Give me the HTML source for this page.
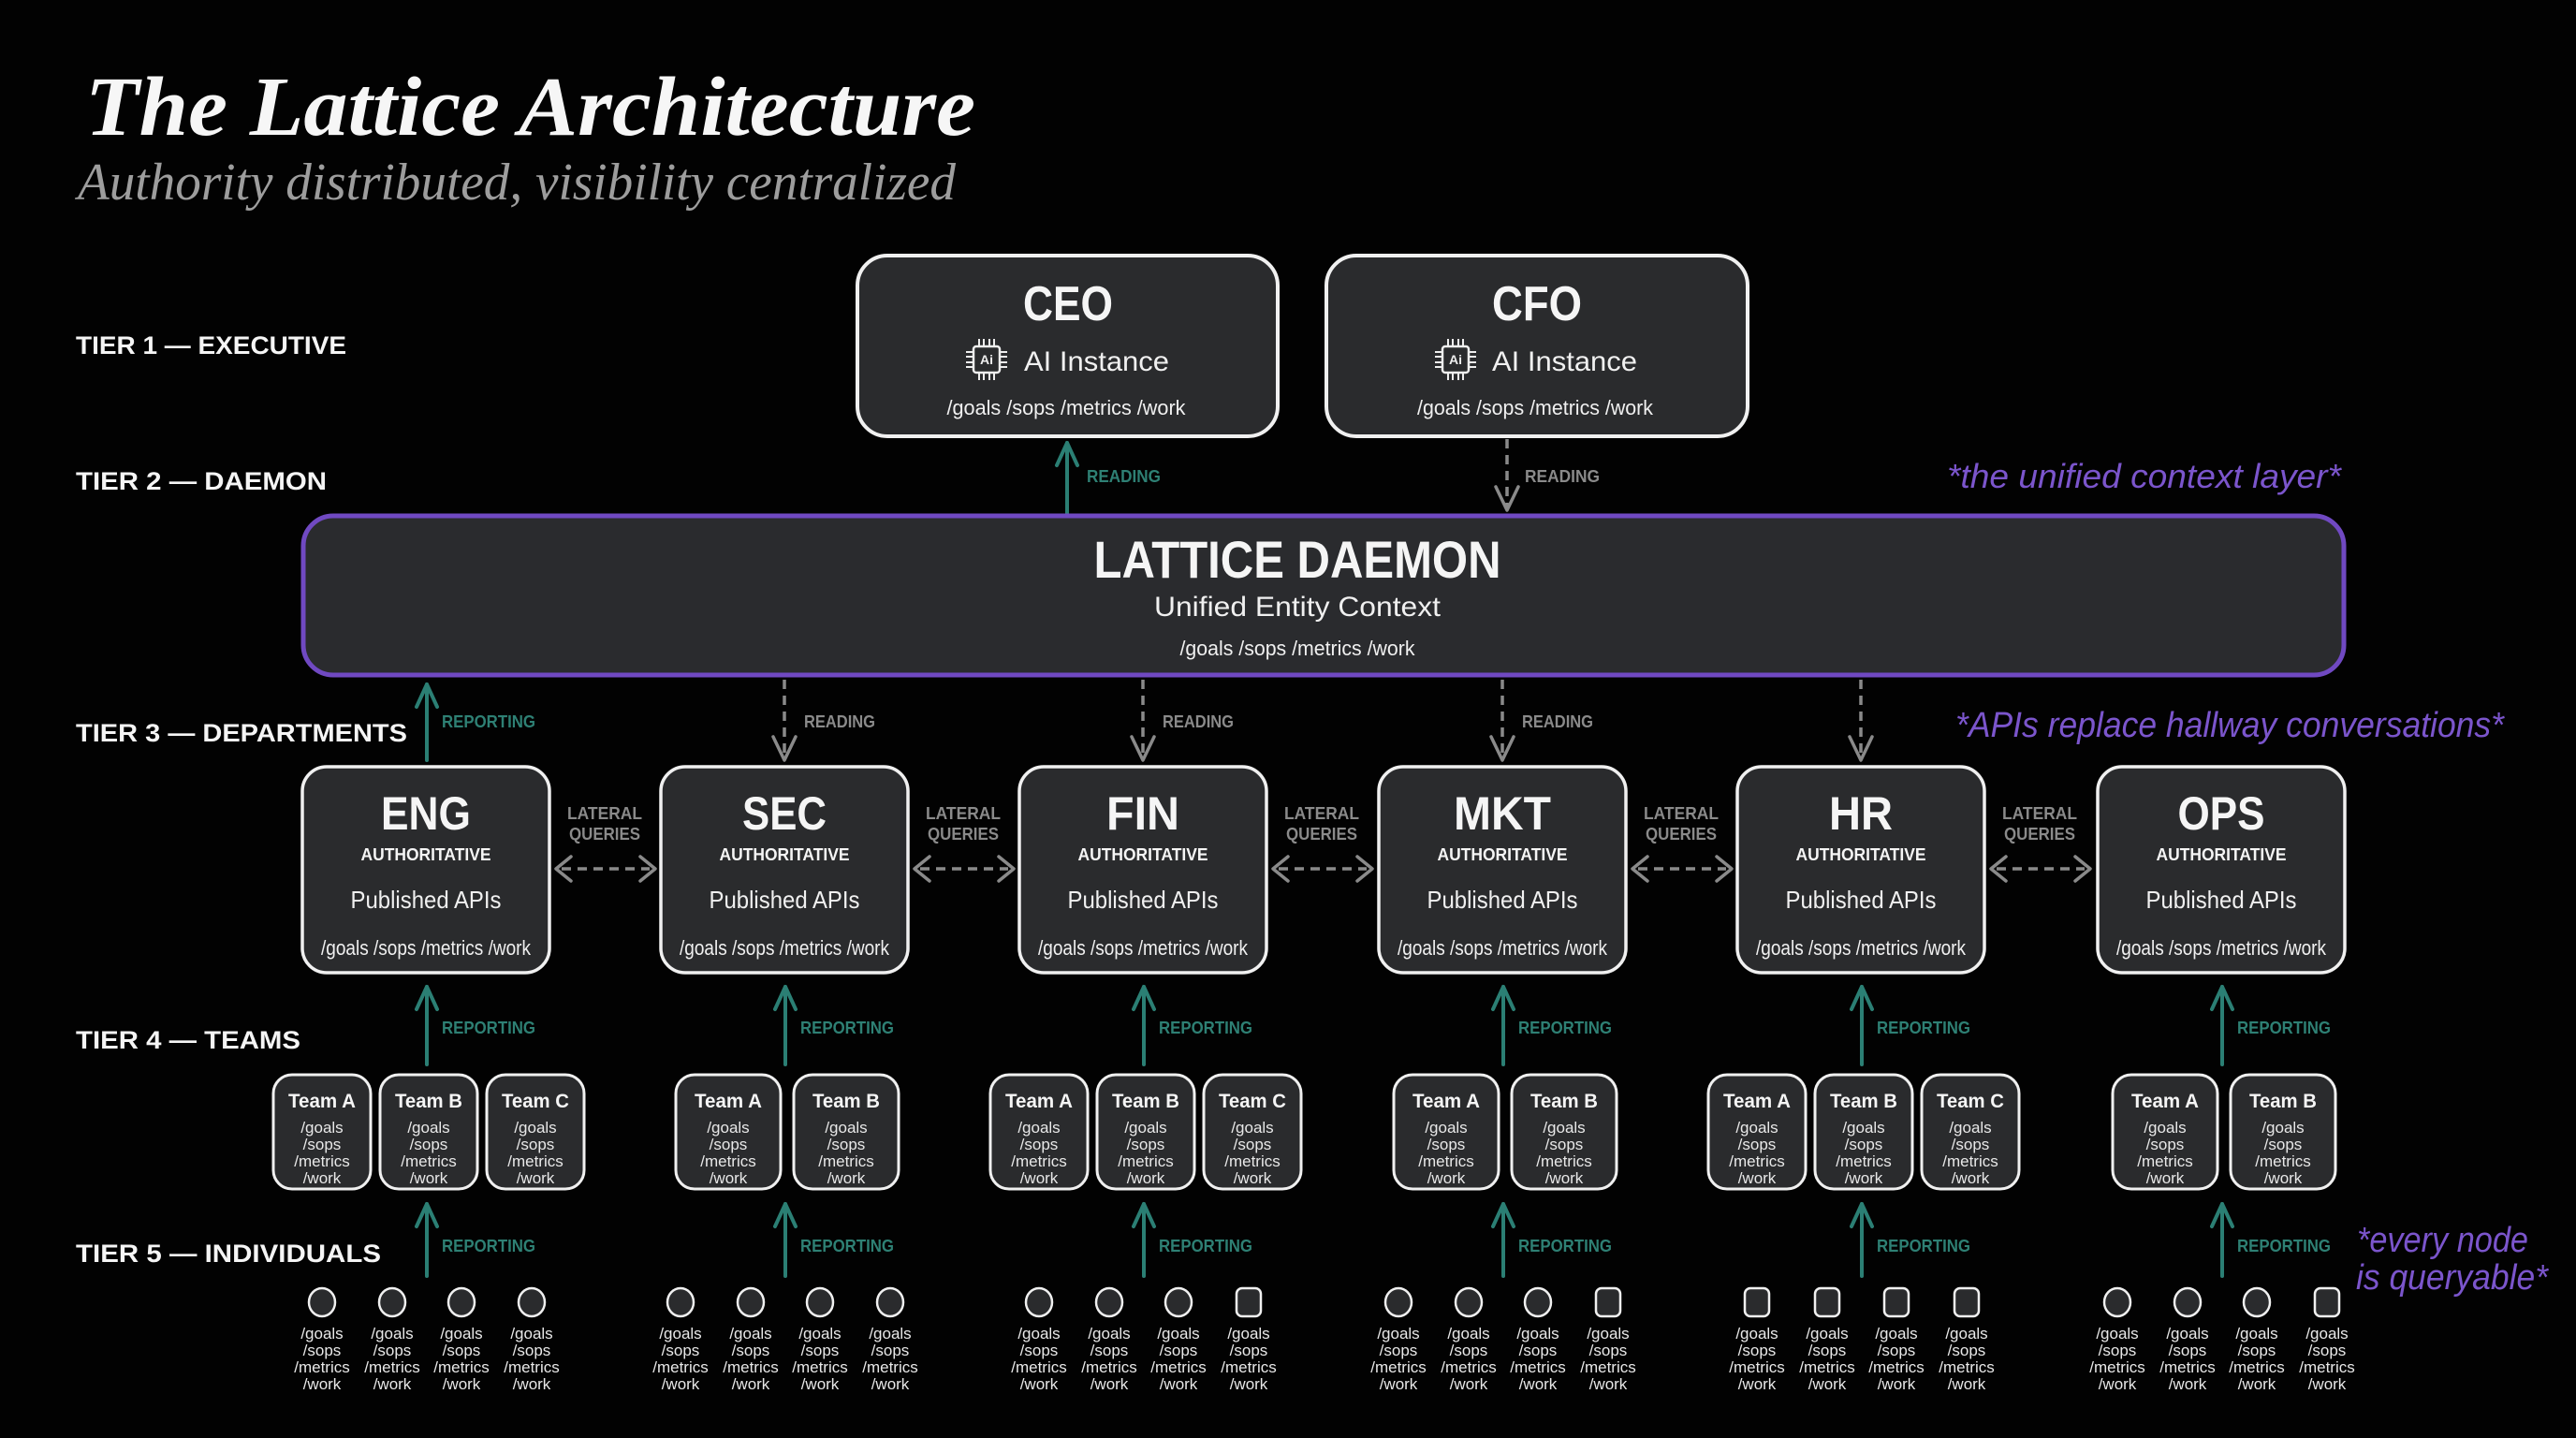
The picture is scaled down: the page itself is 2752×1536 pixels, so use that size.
<!DOCTYPE html>
<html><head><meta charset="utf-8">
<style>
html,body{margin:0;padding:0;background:#020202;}
svg{display:block}
.s{font-family:"Liberation Sans",sans-serif;fill:#f0f0f0}
.b{font-family:"Liberation Sans",sans-serif;font-weight:bold;fill:#f5f5f5}
.box{fill:#2a2b2d;stroke:#f0f0f0}
.p{font-family:"Liberation Sans",sans-serif;font-size:17px;fill:#e8e8e8;text-anchor:middle}
.tm{font-family:"Liberation Sans",sans-serif;font-weight:bold;font-size:21px;fill:#f5f5f5;text-anchor:middle}
.tl{font-family:"Liberation Sans",sans-serif;font-weight:bold;font-size:18px;fill:#2e8074}
.gl{font-family:"Liberation Sans",sans-serif;font-weight:bold;font-size:18px;fill:#8a8a8a}
.ta{stroke:#2b7f74;stroke-width:4;fill:none;stroke-linecap:round;stroke-linejoin:round}
.ga{stroke:#8a8a8a;stroke-width:3.5;fill:none;stroke-dasharray:10 7}
.gh{stroke:#8a8a8a;stroke-width:3.5;fill:none;stroke-linecap:round;stroke-linejoin:round}
.pu{font-family:"Liberation Sans",sans-serif;font-style:italic;fill:#7b55cc}
.mid{text-anchor:middle}
.pin{stroke:#eeeeee;stroke-width:2}
</style></head><body>
<svg width="2752" height="1536" viewBox="0 0 2752 1536" xmlns="http://www.w3.org/2000/svg">
<rect x="0" y="0" width="2752" height="1536" fill="#020202"/>

<!-- Title -->
<text x="91" y="144" font-family="'Liberation Serif', serif" font-weight="bold" font-style="italic" font-size="90" fill="#f6f6f6" textLength="951" lengthAdjust="spacingAndGlyphs">The Lattice Architecture</text>
<text x="83" y="213" font-family="'Liberation Serif', serif" font-style="italic" font-size="56" fill="#9d9d9d" textLength="938" lengthAdjust="spacingAndGlyphs">Authority distributed, visibility centralized</text>

<!-- Tier labels -->
<text class="b" x="81" y="378" font-size="27" textLength="289" lengthAdjust="spacingAndGlyphs">TIER 1 — EXECUTIVE</text>
<text class="b" x="81" y="523" font-size="27" textLength="268" lengthAdjust="spacingAndGlyphs">TIER 2 — DAEMON</text>
<text class="b" x="81" y="792" font-size="27" textLength="354" lengthAdjust="spacingAndGlyphs">TIER 3 — DEPARTMENTS</text>
<text class="b" x="81" y="1120" font-size="27" textLength="240" lengthAdjust="spacingAndGlyphs">TIER 4 — TEAMS</text>
<text class="b" x="81" y="1348" font-size="27" textLength="326" lengthAdjust="spacingAndGlyphs">TIER 5 — INDIVIDUALS</text>

<!-- CEO / CFO -->
<rect class="box" x="916" y="273" width="449" height="193" rx="32" stroke-width="4"/>
<rect class="box" x="1417" y="273" width="450" height="193" rx="32" stroke-width="4"/>
<text class="b mid" x="1141" y="342" font-size="52" textLength="96" lengthAdjust="spacingAndGlyphs">CEO</text>
<text class="b mid" x="1642" y="342" font-size="52" textLength="96" lengthAdjust="spacingAndGlyphs">CFO</text>

<g transform="translate(1054,384)">
<rect x="-14" y="-14" width="28" height="28" rx="3" fill="none" stroke="#eeeeee" stroke-width="2.5"/>
<text x="0" y="5" text-anchor="middle" font-family="'Liberation Sans',sans-serif" font-weight="bold" font-size="14" fill="#eeeeee">Ai</text>
<line class="pin" x1="-14" y1="-8" x2="-22" y2="-8"/><line class="pin" x1="-14" y1="-3" x2="-22" y2="-3"/><line class="pin" x1="-14" y1="3" x2="-22" y2="3"/><line class="pin" x1="-14" y1="8" x2="-22" y2="8"/>
<line class="pin" x1="14" y1="-8" x2="22" y2="-8"/><line class="pin" x1="14" y1="-3" x2="22" y2="-3"/><line class="pin" x1="14" y1="3" x2="22" y2="3"/><line class="pin" x1="14" y1="8" x2="22" y2="8"/>
<line class="pin" x1="-8" y1="-14" x2="-8" y2="-22"/><line class="pin" x1="-3" y1="-14" x2="-3" y2="-22"/><line class="pin" x1="3" y1="-14" x2="3" y2="-22"/><line class="pin" x1="8" y1="-14" x2="8" y2="-22"/>
<line class="pin" x1="-8" y1="14" x2="-8" y2="22"/><line class="pin" x1="-3" y1="14" x2="-3" y2="22"/><line class="pin" x1="3" y1="14" x2="3" y2="22"/><line class="pin" x1="8" y1="14" x2="8" y2="22"/>
</g>
<g transform="translate(1555,384)">
<rect x="-14" y="-14" width="28" height="28" rx="3" fill="none" stroke="#eeeeee" stroke-width="2.5"/>
<text x="0" y="5" text-anchor="middle" font-family="'Liberation Sans',sans-serif" font-weight="bold" font-size="14" fill="#eeeeee">Ai</text>
<line class="pin" x1="-14" y1="-8" x2="-22" y2="-8"/><line class="pin" x1="-14" y1="-3" x2="-22" y2="-3"/><line class="pin" x1="-14" y1="3" x2="-22" y2="3"/><line class="pin" x1="-14" y1="8" x2="-22" y2="8"/>
<line class="pin" x1="14" y1="-8" x2="22" y2="-8"/><line class="pin" x1="14" y1="-3" x2="22" y2="-3"/><line class="pin" x1="14" y1="3" x2="22" y2="3"/><line class="pin" x1="14" y1="8" x2="22" y2="8"/>
<line class="pin" x1="-8" y1="-14" x2="-8" y2="-22"/><line class="pin" x1="-3" y1="-14" x2="-3" y2="-22"/><line class="pin" x1="3" y1="-14" x2="3" y2="-22"/><line class="pin" x1="8" y1="-14" x2="8" y2="-22"/>
<line class="pin" x1="-8" y1="14" x2="-8" y2="22"/><line class="pin" x1="-3" y1="14" x2="-3" y2="22"/><line class="pin" x1="3" y1="14" x2="3" y2="22"/><line class="pin" x1="8" y1="14" x2="8" y2="22"/>
</g>
<text class="s" x="1094" y="396" font-size="30" textLength="155" lengthAdjust="spacingAndGlyphs">AI Instance</text>
<text class="s" x="1594" y="396" font-size="30" textLength="155" lengthAdjust="spacingAndGlyphs">AI Instance</text>
<text class="s mid" x="1139" y="443" font-size="22" textLength="255" lengthAdjust="spacingAndGlyphs">/goals /sops /metrics /work</text>
<text class="s mid" x="1640" y="443" font-size="22" textLength="252" lengthAdjust="spacingAndGlyphs">/goals /sops /metrics /work</text>

<!-- Exec arrows -->
<line class="ta" x1="1140" y1="473" x2="1140" y2="549"/>
<polyline class="ta" points="1129,497 1140,473 1151,497"/>
<text class="tl" x="1161" y="515" textLength="79" lengthAdjust="spacingAndGlyphs">READING</text>
<line class="ga" x1="1610" y1="469" x2="1610" y2="543"/>
<polyline class="gh" points="1598,520 1610,545 1622,520"/>
<text class="gl" x="1629" y="515" textLength="80" lengthAdjust="spacingAndGlyphs">READING</text>

<!-- Daemon -->
<rect x="324" y="551" width="2180" height="170" rx="32" fill="#2a2b2e" stroke="#7049c2" stroke-width="5"/>
<text class="b mid" x="1386" y="617" font-size="56" textLength="435" lengthAdjust="spacingAndGlyphs">LATTICE DAEMON</text>
<text class="s mid" x="1386" y="658" font-size="30" textLength="306" lengthAdjust="spacingAndGlyphs">Unified Entity Context</text>
<text class="s mid" x="1386" y="700" font-size="22" textLength="251" lengthAdjust="spacingAndGlyphs">/goals /sops /metrics /work</text>

<!-- Annotations -->
<text class="pu" x="2080" y="521" font-size="36" textLength="421" lengthAdjust="spacingAndGlyphs">*the unified context layer*</text>
<text class="pu" x="2089" y="787" font-size="38" textLength="586" lengthAdjust="spacingAndGlyphs">*APIs replace hallway conversations*</text>
<text class="pu" x="2518" y="1337" font-size="38" textLength="183" lengthAdjust="spacingAndGlyphs">*every node</text>
<text class="pu" x="2517" y="1377" font-size="38" textLength="205" lengthAdjust="spacingAndGlyphs">is queryable*</text>

<!-- Daemon -> departments -->
<line class="ta" x1="456" y1="731" x2="456" y2="812"/>
<polyline class="ta" points="445,755 456,731 467,755"/>
<text class="tl" x="472" y="777" textLength="100" lengthAdjust="spacingAndGlyphs">REPORTING</text>

<line class="ga" x1="838" y1="726" x2="838" y2="809"/>
<polyline class="gh" points="826,787 838,812 850,787"/>
<text class="gl" x="859" y="777" textLength="76" lengthAdjust="spacingAndGlyphs">READING</text>

<line class="ga" x1="1221" y1="726" x2="1221" y2="809"/>
<polyline class="gh" points="1209,787 1221,812 1233,787"/>
<text class="gl" x="1242" y="777" textLength="76" lengthAdjust="spacingAndGlyphs">READING</text>

<line class="ga" x1="1605" y1="726" x2="1605" y2="809"/>
<polyline class="gh" points="1593,787 1605,812 1617,787"/>
<text class="gl" x="1626" y="777" textLength="76" lengthAdjust="spacingAndGlyphs">READING</text>

<line class="ga" x1="1988" y1="726" x2="1988" y2="809"/>
<polyline class="gh" points="1976,787 1988,812 2000,787"/>

<!-- Department boxes -->
<rect class="box" x="323" y="819" width="264" height="220" rx="26" stroke-width="3.5"/>
<rect class="box" x="706" y="819" width="264" height="220" rx="26" stroke-width="3.5"/>
<rect class="box" x="1089" y="819" width="264" height="220" rx="26" stroke-width="3.5"/>
<rect class="box" x="1473" y="819" width="264" height="220" rx="26" stroke-width="3.5"/>
<rect class="box" x="1856" y="819" width="264" height="220" rx="26" stroke-width="3.5"/>
<rect class="box" x="2241" y="819" width="264" height="220" rx="26" stroke-width="3.5"/>

<text class="b mid" x="455" y="886" font-size="50" textLength="96" lengthAdjust="spacingAndGlyphs">ENG</text>
<text class="b mid" x="838" y="886" font-size="50" textLength="90" lengthAdjust="spacingAndGlyphs">SEC</text>
<text class="b mid" x="1221" y="886" font-size="50" textLength="78" lengthAdjust="spacingAndGlyphs">FIN</text>
<text class="b mid" x="1605" y="886" font-size="50" textLength="104" lengthAdjust="spacingAndGlyphs">MKT</text>
<text class="b mid" x="1988" y="886" font-size="50" textLength="68" lengthAdjust="spacingAndGlyphs">HR</text>
<text class="b mid" x="2373" y="886" font-size="50" textLength="93" lengthAdjust="spacingAndGlyphs">OPS</text>

<text class="b mid" x="455" y="919" font-size="18" textLength="139" lengthAdjust="spacingAndGlyphs">AUTHORITATIVE</text>
<text class="b mid" x="838" y="919" font-size="18" textLength="139" lengthAdjust="spacingAndGlyphs">AUTHORITATIVE</text>
<text class="b mid" x="1221" y="919" font-size="18" textLength="139" lengthAdjust="spacingAndGlyphs">AUTHORITATIVE</text>
<text class="b mid" x="1605" y="919" font-size="18" textLength="139" lengthAdjust="spacingAndGlyphs">AUTHORITATIVE</text>
<text class="b mid" x="1988" y="919" font-size="18" textLength="139" lengthAdjust="spacingAndGlyphs">AUTHORITATIVE</text>
<text class="b mid" x="2373" y="919" font-size="18" textLength="139" lengthAdjust="spacingAndGlyphs">AUTHORITATIVE</text>

<text class="s mid" x="455" y="970" font-size="26" textLength="161" lengthAdjust="spacingAndGlyphs">Published APIs</text>
<text class="s mid" x="838" y="970" font-size="26" textLength="161" lengthAdjust="spacingAndGlyphs">Published APIs</text>
<text class="s mid" x="1221" y="970" font-size="26" textLength="161" lengthAdjust="spacingAndGlyphs">Published APIs</text>
<text class="s mid" x="1605" y="970" font-size="26" textLength="161" lengthAdjust="spacingAndGlyphs">Published APIs</text>
<text class="s mid" x="1988" y="970" font-size="26" textLength="161" lengthAdjust="spacingAndGlyphs">Published APIs</text>
<text class="s mid" x="2373" y="970" font-size="26" textLength="161" lengthAdjust="spacingAndGlyphs">Published APIs</text>

<text class="s mid" x="455" y="1020" font-size="22" textLength="224" lengthAdjust="spacingAndGlyphs">/goals /sops /metrics /work</text>
<text class="s mid" x="838" y="1020" font-size="22" textLength="224" lengthAdjust="spacingAndGlyphs">/goals /sops /metrics /work</text>
<text class="s mid" x="1221" y="1020" font-size="22" textLength="224" lengthAdjust="spacingAndGlyphs">/goals /sops /metrics /work</text>
<text class="s mid" x="1605" y="1020" font-size="22" textLength="224" lengthAdjust="spacingAndGlyphs">/goals /sops /metrics /work</text>
<text class="s mid" x="1988" y="1020" font-size="22" textLength="224" lengthAdjust="spacingAndGlyphs">/goals /sops /metrics /work</text>
<text class="s mid" x="2373" y="1020" font-size="22" textLength="224" lengthAdjust="spacingAndGlyphs">/goals /sops /metrics /work</text>

<!-- Lateral queries -->
<text class="gl mid" x="646" y="875" font-size="19" textLength="80" lengthAdjust="spacingAndGlyphs">LATERAL</text>
<text class="gl mid" x="646" y="897" font-size="19" textLength="76" lengthAdjust="spacingAndGlyphs">QUERIES</text>
<line class="ga" x1="600" y1="928" x2="694" y2="928"/>
<polyline class="gh" points="610,915 594,928 610,941"/><polyline class="gh" points="684,915 700,928 684,941"/>

<text class="gl mid" x="1029" y="875" font-size="19" textLength="80" lengthAdjust="spacingAndGlyphs">LATERAL</text>
<text class="gl mid" x="1029" y="897" font-size="19" textLength="76" lengthAdjust="spacingAndGlyphs">QUERIES</text>
<line class="ga" x1="983" y1="928" x2="1077" y2="928"/>
<polyline class="gh" points="993,915 977,928 993,941"/><polyline class="gh" points="1067,915 1083,928 1067,941"/>

<text class="gl mid" x="1412" y="875" font-size="19" textLength="80" lengthAdjust="spacingAndGlyphs">LATERAL</text>
<text class="gl mid" x="1412" y="897" font-size="19" textLength="76" lengthAdjust="spacingAndGlyphs">QUERIES</text>
<line class="ga" x1="1366" y1="928" x2="1460" y2="928"/>
<polyline class="gh" points="1376,915 1360,928 1376,941"/><polyline class="gh" points="1450,915 1466,928 1450,941"/>

<text class="gl mid" x="1796" y="875" font-size="19" textLength="80" lengthAdjust="spacingAndGlyphs">LATERAL</text>
<text class="gl mid" x="1796" y="897" font-size="19" textLength="76" lengthAdjust="spacingAndGlyphs">QUERIES</text>
<line class="ga" x1="1750" y1="928" x2="1844" y2="928"/>
<polyline class="gh" points="1760,915 1744,928 1760,941"/><polyline class="gh" points="1834,915 1850,928 1834,941"/>

<text class="gl mid" x="2179" y="875" font-size="19" textLength="80" lengthAdjust="spacingAndGlyphs">LATERAL</text>
<text class="gl mid" x="2179" y="897" font-size="19" textLength="76" lengthAdjust="spacingAndGlyphs">QUERIES</text>
<line class="ga" x1="2133" y1="928" x2="2227" y2="928"/>
<polyline class="gh" points="2143,915 2127,928 2143,941"/><polyline class="gh" points="2217,915 2233,928 2217,941"/>

<!-- Dept -> Teams reporting arrows -->
<g>
<line class="ta" x1="456" y1="1054" x2="456" y2="1137"/><polyline class="ta" points="445,1078 456,1054 467,1078"/>
<text class="tl" x="472" y="1104" textLength="100" lengthAdjust="spacingAndGlyphs">REPORTING</text>
<line class="ta" x1="839" y1="1054" x2="839" y2="1137"/><polyline class="ta" points="828,1078 839,1054 850,1078"/>
<text class="tl" x="855" y="1104" textLength="100" lengthAdjust="spacingAndGlyphs">REPORTING</text>
<line class="ta" x1="1222" y1="1054" x2="1222" y2="1137"/><polyline class="ta" points="1211,1078 1222,1054 1233,1078"/>
<text class="tl" x="1238" y="1104" textLength="100" lengthAdjust="spacingAndGlyphs">REPORTING</text>
<line class="ta" x1="1606" y1="1054" x2="1606" y2="1137"/><polyline class="ta" points="1595,1078 1606,1054 1617,1078"/>
<text class="tl" x="1622" y="1104" textLength="100" lengthAdjust="spacingAndGlyphs">REPORTING</text>
<line class="ta" x1="1989" y1="1054" x2="1989" y2="1137"/><polyline class="ta" points="1978,1078 1989,1054 2000,1078"/>
<text class="tl" x="2005" y="1104" textLength="100" lengthAdjust="spacingAndGlyphs">REPORTING</text>
<line class="ta" x1="2374" y1="1054" x2="2374" y2="1137"/><polyline class="ta" points="2363,1078 2374,1054 2385,1078"/>
<text class="tl" x="2390" y="1104" textLength="100" lengthAdjust="spacingAndGlyphs">REPORTING</text>
</g>

<!-- Teams -> Individuals reporting arrows -->
<g>
<line class="ta" x1="456" y1="1286" x2="456" y2="1363"/><polyline class="ta" points="445,1310 456,1286 467,1310"/>
<text class="tl" x="472" y="1337" textLength="100" lengthAdjust="spacingAndGlyphs">REPORTING</text>
<line class="ta" x1="839" y1="1286" x2="839" y2="1363"/><polyline class="ta" points="828,1310 839,1286 850,1310"/>
<text class="tl" x="855" y="1337" textLength="100" lengthAdjust="spacingAndGlyphs">REPORTING</text>
<line class="ta" x1="1222" y1="1286" x2="1222" y2="1363"/><polyline class="ta" points="1211,1310 1222,1286 1233,1310"/>
<text class="tl" x="1238" y="1337" textLength="100" lengthAdjust="spacingAndGlyphs">REPORTING</text>
<line class="ta" x1="1606" y1="1286" x2="1606" y2="1363"/><polyline class="ta" points="1595,1310 1606,1286 1617,1310"/>
<text class="tl" x="1622" y="1337" textLength="100" lengthAdjust="spacingAndGlyphs">REPORTING</text>
<line class="ta" x1="1989" y1="1286" x2="1989" y2="1363"/><polyline class="ta" points="1978,1310 1989,1286 2000,1310"/>
<text class="tl" x="2005" y="1337" textLength="100" lengthAdjust="spacingAndGlyphs">REPORTING</text>
<line class="ta" x1="2374" y1="1286" x2="2374" y2="1363"/><polyline class="ta" points="2363,1310 2374,1286 2385,1310"/>
<text class="tl" x="2390" y="1337" textLength="100" lengthAdjust="spacingAndGlyphs">REPORTING</text>
</g>

<!-- Team boxes -->
<g stroke-width="3">
<rect class="box" x="292" y="1148" width="104" height="122" rx="20"/>
<rect class="box" x="406" y="1148" width="104" height="122" rx="20"/>
<rect class="box" x="520" y="1148" width="104" height="122" rx="20"/>
<rect class="box" x="722" y="1148" width="112" height="122" rx="20"/>
<rect class="box" x="848" y="1148" width="112" height="122" rx="20"/>
<rect class="box" x="1058" y="1148" width="104" height="122" rx="20"/>
<rect class="box" x="1172" y="1148" width="104" height="122" rx="20"/>
<rect class="box" x="1286" y="1148" width="104" height="122" rx="20"/>
<rect class="box" x="1489" y="1148" width="112" height="122" rx="20"/>
<rect class="box" x="1615" y="1148" width="112" height="122" rx="20"/>
<rect class="box" x="1825" y="1148" width="104" height="122" rx="20"/>
<rect class="box" x="1939" y="1148" width="104" height="122" rx="20"/>
<rect class="box" x="2053" y="1148" width="104" height="122" rx="20"/>
<rect class="box" x="2257" y="1148" width="112" height="122" rx="20"/>
<rect class="box" x="2383" y="1148" width="112" height="122" rx="20"/>
</g>

<text class="tm" x="344" y="1183" textLength="72" lengthAdjust="spacingAndGlyphs">Team A</text>
<text class="tm" x="458" y="1183" textLength="72" lengthAdjust="spacingAndGlyphs">Team B</text>
<text class="tm" x="572" y="1183" textLength="72" lengthAdjust="spacingAndGlyphs">Team C</text>
<text class="tm" x="778" y="1183" textLength="72" lengthAdjust="spacingAndGlyphs">Team A</text>
<text class="tm" x="904" y="1183" textLength="72" lengthAdjust="spacingAndGlyphs">Team B</text>
<text class="tm" x="1110" y="1183" textLength="72" lengthAdjust="spacingAndGlyphs">Team A</text>
<text class="tm" x="1224" y="1183" textLength="72" lengthAdjust="spacingAndGlyphs">Team B</text>
<text class="tm" x="1338" y="1183" textLength="72" lengthAdjust="spacingAndGlyphs">Team C</text>
<text class="tm" x="1545" y="1183" textLength="72" lengthAdjust="spacingAndGlyphs">Team A</text>
<text class="tm" x="1671" y="1183" textLength="72" lengthAdjust="spacingAndGlyphs">Team B</text>
<text class="tm" x="1877" y="1183" textLength="72" lengthAdjust="spacingAndGlyphs">Team A</text>
<text class="tm" x="1991" y="1183" textLength="72" lengthAdjust="spacingAndGlyphs">Team B</text>
<text class="tm" x="2105" y="1183" textLength="72" lengthAdjust="spacingAndGlyphs">Team C</text>
<text class="tm" x="2313" y="1183" textLength="72" lengthAdjust="spacingAndGlyphs">Team A</text>
<text class="tm" x="2439" y="1183" textLength="72" lengthAdjust="spacingAndGlyphs">Team B</text>

<text class="p"><tspan x="344" y="1210">/goals</tspan><tspan x="344" y="1228">/sops</tspan><tspan x="344" y="1246">/metrics</tspan><tspan x="344" y="1264">/work</tspan></text>
<text class="p"><tspan x="458" y="1210">/goals</tspan><tspan x="458" y="1228">/sops</tspan><tspan x="458" y="1246">/metrics</tspan><tspan x="458" y="1264">/work</tspan></text>
<text class="p"><tspan x="572" y="1210">/goals</tspan><tspan x="572" y="1228">/sops</tspan><tspan x="572" y="1246">/metrics</tspan><tspan x="572" y="1264">/work</tspan></text>
<text class="p"><tspan x="778" y="1210">/goals</tspan><tspan x="778" y="1228">/sops</tspan><tspan x="778" y="1246">/metrics</tspan><tspan x="778" y="1264">/work</tspan></text>
<text class="p"><tspan x="904" y="1210">/goals</tspan><tspan x="904" y="1228">/sops</tspan><tspan x="904" y="1246">/metrics</tspan><tspan x="904" y="1264">/work</tspan></text>
<text class="p"><tspan x="1110" y="1210">/goals</tspan><tspan x="1110" y="1228">/sops</tspan><tspan x="1110" y="1246">/metrics</tspan><tspan x="1110" y="1264">/work</tspan></text>
<text class="p"><tspan x="1224" y="1210">/goals</tspan><tspan x="1224" y="1228">/sops</tspan><tspan x="1224" y="1246">/metrics</tspan><tspan x="1224" y="1264">/work</tspan></text>
<text class="p"><tspan x="1338" y="1210">/goals</tspan><tspan x="1338" y="1228">/sops</tspan><tspan x="1338" y="1246">/metrics</tspan><tspan x="1338" y="1264">/work</tspan></text>
<text class="p"><tspan x="1545" y="1210">/goals</tspan><tspan x="1545" y="1228">/sops</tspan><tspan x="1545" y="1246">/metrics</tspan><tspan x="1545" y="1264">/work</tspan></text>
<text class="p"><tspan x="1671" y="1210">/goals</tspan><tspan x="1671" y="1228">/sops</tspan><tspan x="1671" y="1246">/metrics</tspan><tspan x="1671" y="1264">/work</tspan></text>
<text class="p"><tspan x="1877" y="1210">/goals</tspan><tspan x="1877" y="1228">/sops</tspan><tspan x="1877" y="1246">/metrics</tspan><tspan x="1877" y="1264">/work</tspan></text>
<text class="p"><tspan x="1991" y="1210">/goals</tspan><tspan x="1991" y="1228">/sops</tspan><tspan x="1991" y="1246">/metrics</tspan><tspan x="1991" y="1264">/work</tspan></text>
<text class="p"><tspan x="2105" y="1210">/goals</tspan><tspan x="2105" y="1228">/sops</tspan><tspan x="2105" y="1246">/metrics</tspan><tspan x="2105" y="1264">/work</tspan></text>
<text class="p"><tspan x="2313" y="1210">/goals</tspan><tspan x="2313" y="1228">/sops</tspan><tspan x="2313" y="1246">/metrics</tspan><tspan x="2313" y="1264">/work</tspan></text>
<text class="p"><tspan x="2439" y="1210">/goals</tspan><tspan x="2439" y="1228">/sops</tspan><tspan x="2439" y="1246">/metrics</tspan><tspan x="2439" y="1264">/work</tspan></text>

<!-- Individuals shapes -->
<g stroke-width="2.5">
<ellipse class="box" cx="344" cy="1391" rx="14" ry="15"/>
<ellipse class="box" cx="419" cy="1391" rx="14" ry="15"/>
<ellipse class="box" cx="493" cy="1391" rx="14" ry="15"/>
<ellipse class="box" cx="568" cy="1391" rx="14" ry="15"/>
<ellipse class="box" cx="727" cy="1391" rx="14" ry="15"/>
<ellipse class="box" cx="802" cy="1391" rx="14" ry="15"/>
<ellipse class="box" cx="876" cy="1391" rx="14" ry="15"/>
<ellipse class="box" cx="951" cy="1391" rx="14" ry="15"/>
<ellipse class="box" cx="1110" cy="1391" rx="14" ry="15"/>
<ellipse class="box" cx="1185" cy="1391" rx="14" ry="15"/>
<ellipse class="box" cx="1259" cy="1391" rx="14" ry="15"/>
<rect class="box" x="1321" y="1376" width="26" height="30" rx="6"/>
<ellipse class="box" cx="1494" cy="1391" rx="14" ry="15"/>
<ellipse class="box" cx="1569" cy="1391" rx="14" ry="15"/>
<ellipse class="box" cx="1643" cy="1391" rx="14" ry="15"/>
<rect class="box" x="1705" y="1376" width="26" height="30" rx="6"/>
<rect class="box" x="1864" y="1376" width="26" height="30" rx="6"/>
<rect class="box" x="1939" y="1376" width="26" height="30" rx="6"/>
<rect class="box" x="2013" y="1376" width="26" height="30" rx="6"/>
<rect class="box" x="2088" y="1376" width="26" height="30" rx="6"/>
<ellipse class="box" cx="2262" cy="1391" rx="14" ry="15"/>
<ellipse class="box" cx="2337" cy="1391" rx="14" ry="15"/>
<ellipse class="box" cx="2411" cy="1391" rx="14" ry="15"/>
<rect class="box" x="2473" y="1376" width="26" height="30" rx="6"/>
</g>

<!-- Individuals text -->
<text class="p"><tspan x="344" y="1430">/goals</tspan><tspan x="344" y="1448">/sops</tspan><tspan x="344" y="1466">/metrics</tspan><tspan x="344" y="1484">/work</tspan></text>
<text class="p"><tspan x="419" y="1430">/goals</tspan><tspan x="419" y="1448">/sops</tspan><tspan x="419" y="1466">/metrics</tspan><tspan x="419" y="1484">/work</tspan></text>
<text class="p"><tspan x="493" y="1430">/goals</tspan><tspan x="493" y="1448">/sops</tspan><tspan x="493" y="1466">/metrics</tspan><tspan x="493" y="1484">/work</tspan></text>
<text class="p"><tspan x="568" y="1430">/goals</tspan><tspan x="568" y="1448">/sops</tspan><tspan x="568" y="1466">/metrics</tspan><tspan x="568" y="1484">/work</tspan></text>
<text class="p"><tspan x="727" y="1430">/goals</tspan><tspan x="727" y="1448">/sops</tspan><tspan x="727" y="1466">/metrics</tspan><tspan x="727" y="1484">/work</tspan></text>
<text class="p"><tspan x="802" y="1430">/goals</tspan><tspan x="802" y="1448">/sops</tspan><tspan x="802" y="1466">/metrics</tspan><tspan x="802" y="1484">/work</tspan></text>
<text class="p"><tspan x="876" y="1430">/goals</tspan><tspan x="876" y="1448">/sops</tspan><tspan x="876" y="1466">/metrics</tspan><tspan x="876" y="1484">/work</tspan></text>
<text class="p"><tspan x="951" y="1430">/goals</tspan><tspan x="951" y="1448">/sops</tspan><tspan x="951" y="1466">/metrics</tspan><tspan x="951" y="1484">/work</tspan></text>
<text class="p"><tspan x="1110" y="1430">/goals</tspan><tspan x="1110" y="1448">/sops</tspan><tspan x="1110" y="1466">/metrics</tspan><tspan x="1110" y="1484">/work</tspan></text>
<text class="p"><tspan x="1185" y="1430">/goals</tspan><tspan x="1185" y="1448">/sops</tspan><tspan x="1185" y="1466">/metrics</tspan><tspan x="1185" y="1484">/work</tspan></text>
<text class="p"><tspan x="1259" y="1430">/goals</tspan><tspan x="1259" y="1448">/sops</tspan><tspan x="1259" y="1466">/metrics</tspan><tspan x="1259" y="1484">/work</tspan></text>
<text class="p"><tspan x="1334" y="1430">/goals</tspan><tspan x="1334" y="1448">/sops</tspan><tspan x="1334" y="1466">/metrics</tspan><tspan x="1334" y="1484">/work</tspan></text>
<text class="p"><tspan x="1494" y="1430">/goals</tspan><tspan x="1494" y="1448">/sops</tspan><tspan x="1494" y="1466">/metrics</tspan><tspan x="1494" y="1484">/work</tspan></text>
<text class="p"><tspan x="1569" y="1430">/goals</tspan><tspan x="1569" y="1448">/sops</tspan><tspan x="1569" y="1466">/metrics</tspan><tspan x="1569" y="1484">/work</tspan></text>
<text class="p"><tspan x="1643" y="1430">/goals</tspan><tspan x="1643" y="1448">/sops</tspan><tspan x="1643" y="1466">/metrics</tspan><tspan x="1643" y="1484">/work</tspan></text>
<text class="p"><tspan x="1718" y="1430">/goals</tspan><tspan x="1718" y="1448">/sops</tspan><tspan x="1718" y="1466">/metrics</tspan><tspan x="1718" y="1484">/work</tspan></text>
<text class="p"><tspan x="1877" y="1430">/goals</tspan><tspan x="1877" y="1448">/sops</tspan><tspan x="1877" y="1466">/metrics</tspan><tspan x="1877" y="1484">/work</tspan></text>
<text class="p"><tspan x="1952" y="1430">/goals</tspan><tspan x="1952" y="1448">/sops</tspan><tspan x="1952" y="1466">/metrics</tspan><tspan x="1952" y="1484">/work</tspan></text>
<text class="p"><tspan x="2026" y="1430">/goals</tspan><tspan x="2026" y="1448">/sops</tspan><tspan x="2026" y="1466">/metrics</tspan><tspan x="2026" y="1484">/work</tspan></text>
<text class="p"><tspan x="2101" y="1430">/goals</tspan><tspan x="2101" y="1448">/sops</tspan><tspan x="2101" y="1466">/metrics</tspan><tspan x="2101" y="1484">/work</tspan></text>
<text class="p"><tspan x="2262" y="1430">/goals</tspan><tspan x="2262" y="1448">/sops</tspan><tspan x="2262" y="1466">/metrics</tspan><tspan x="2262" y="1484">/work</tspan></text>
<text class="p"><tspan x="2337" y="1430">/goals</tspan><tspan x="2337" y="1448">/sops</tspan><tspan x="2337" y="1466">/metrics</tspan><tspan x="2337" y="1484">/work</tspan></text>
<text class="p"><tspan x="2411" y="1430">/goals</tspan><tspan x="2411" y="1448">/sops</tspan><tspan x="2411" y="1466">/metrics</tspan><tspan x="2411" y="1484">/work</tspan></text>
<text class="p"><tspan x="2486" y="1430">/goals</tspan><tspan x="2486" y="1448">/sops</tspan><tspan x="2486" y="1466">/metrics</tspan><tspan x="2486" y="1484">/work</tspan></text>
</svg>
</body></html>
